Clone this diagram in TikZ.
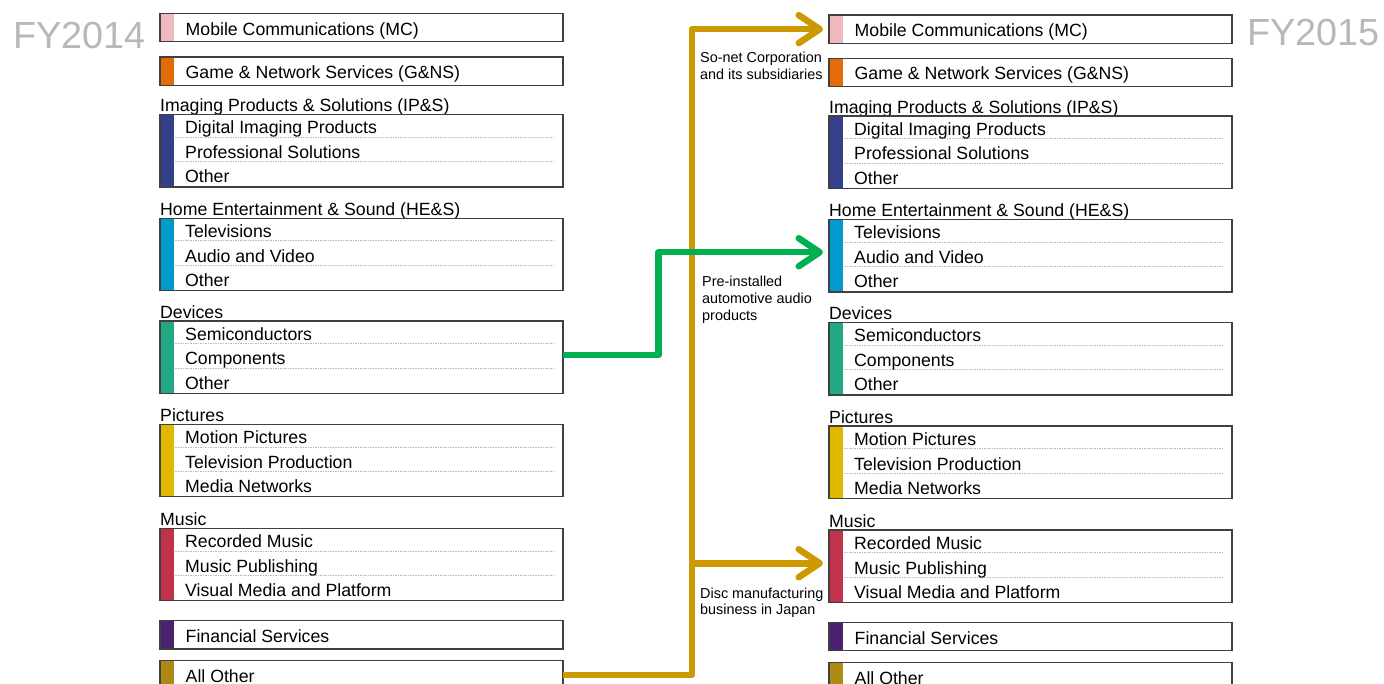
\documentclass[tikz,border=0pt]{standalone}
\usepackage{fontspec}
\setmainfont{Liberation Sans}
\usetikzlibrary{arrows.meta}
\definecolor{cMC}{HTML}{EFB9BD}
\definecolor{cGNS}{HTML}{E36C09}
\definecolor{cIPS}{HTML}{34408A}
\definecolor{cHES}{HTML}{009ACD}
\definecolor{cDEV}{HTML}{23A886}
\definecolor{cPIC}{HTML}{E0B800}
\definecolor{cMUS}{HTML}{C1334A}
\definecolor{cFIN}{HTML}{4A2270}
\definecolor{cALL}{HTML}{AE8A14}
\definecolor{cGreen}{HTML}{00B050}
\definecolor{cGold}{HTML}{CC9A00}
\definecolor{cBorder}{HTML}{404040}
\definecolor{cSep}{HTML}{BBBBBB}
\definecolor{cFY}{HTML}{B8B8B8}
\tikzset{
  box/.style={draw=cBorder, line width=1.2pt, minimum width=403pt, inner sep=0pt, outer sep=0pt, anchor=north west},
  item/.style={anchor=base west, inner sep=0pt, font=\fontsize{17.7}{20}\selectfont},
  note/.style={anchor=north west, inner sep=0pt, align=left, font=\fontsize{14.4}{16.8}\selectfont},
  fy/.style={anchor=base west, inner sep=0pt, text=cFY, font=\fontsize{37.8}{40}\selectfont},
  sepline/.style={cSep, line width=0.6pt, dash pattern=on 1.5pt off 1pt},
  flow/.style={line width=6.5pt, line join=round, -{Straight Barb[length=21pt,width=28pt,round]}, shorten >=6pt},
}
\newcommand\SingleBox[5]{%
  \fill[#4] (#2,#3) rectangle ++(13.5,28.3);
  \node[box, minimum height=28.3pt] (#1) at (#2,#3) {};
  \node[item] (#1-t) at (#2+25.5,#3+21.7) {#5};
}
\newcommand\TripleBox[8]{%
  \node[item] (#1-h) at (#2,#3-2.5) {#5};
  \fill[#4] (#2,#3) rectangle ++(13.5,72.5);
  \node[box, minimum height=72.5pt] (#1) at (#2,#3) {};
  \draw[sepline] (#2+15,#3+22.5) -- (#2+395,#3+22.5);
  \draw[sepline] (#2+15,#3+47) -- (#2+395,#3+47);
  \node[item] (#1-a) at (#2+25,#3+19.5) {#6};
  \node[item] (#1-b) at (#2+25,#3+44) {#7};
  \node[item] (#1-c) at (#2+25,#3+68.5) {#8};
}
\begin{document}
\begin{tikzpicture}[x=1pt,y=-1pt]
\useasboundingbox (0,0) rectangle (1384,684);
\node[fy] (fy14) at (13,48.3) {FY2014};
\node[fy] (fy15) at (1247,45.5) {FY2015};
% left column
\SingleBox{Lmc}{160}{13.5}{cMC}{Mobile Communications (MC)}
\SingleBox{Lgns}{160}{57}{cGNS}{Game \& Network Services (G\&NS)}
\TripleBox{Lips}{160}{114.5}{cIPS}{Imaging Products \& Solutions (IP\&S)}{Digital Imaging Products}{Professional Solutions}{Other}
\TripleBox{Lhes}{160}{218.3}{cHES}{Home Entertainment \& Sound (HE\&S)}{Televisions}{Audio and Video}{Other}
\TripleBox{Ldev}{160}{321}{cDEV}{Devices}{Semiconductors}{Components}{Other}
\TripleBox{Lpic}{160}{424.3}{cPIC}{Pictures}{Motion Pictures}{Television Production}{Media Networks}
\TripleBox{Lmus}{160}{528.3}{cMUS}{Music}{Recorded Music}{Music Publishing}{Visual Media and Platform}
\SingleBox{Lfin}{160}{620.7}{cFIN}{Financial Services}
\SingleBox{Lall}{160}{660.7}{cALL}{All Other}
% right column
\SingleBox{Rmc}{829}{15}{cMC}{Mobile Communications (MC)}
\SingleBox{Rgns}{829}{58.3}{cGNS}{Game \& Network Services (G\&NS)}
\TripleBox{Rips}{829}{116}{cIPS}{Imaging Products \& Solutions (IP\&S)}{Digital Imaging Products}{Professional Solutions}{Other}
\TripleBox{Rhes}{829}{219.5}{cHES}{Home Entertainment \& Sound (HE\&S)}{Televisions}{Audio and Video}{Other}
\TripleBox{Rdev}{829}{322.5}{cDEV}{Devices}{Semiconductors}{Components}{Other}
\TripleBox{Rpic}{829}{426}{cPIC}{Pictures}{Motion Pictures}{Television Production}{Media Networks}
\TripleBox{Rmus}{829}{530}{cMUS}{Music}{Recorded Music}{Music Publishing}{Visual Media and Platform}
\SingleBox{Rfin}{829}{622.5}{cFIN}{Financial Services}
\SingleBox{Rall}{829}{662.5}{cALL}{All Other}
% notes
\node[note] (n1) at (700,52) {So-net Corporation\\and its subsidiaries};
\node[note] (n2) at (702,276) {Pre-installed\\automotive audio\\products};
\node[note] (n3) at (700,587.5) {Disc manufacturing\\business in Japan};
% connectors
\draw[flow, cGold] (Lall.east) -| ([xshift=-137pt]Rmc.west) -- (Rmc.west);
\draw[flow, cGold] ([xshift=-137pt,yshift=3pt]Rmus.west) -- ([yshift=3pt]Rmus.west);
\draw[flow, cGreen] ([yshift=2pt]Ldev.east) -| ([xshift=-170.5pt,yshift=3.5pt]Rhes.west) -- ([yshift=3.5pt]Rhes.west);
\end{tikzpicture}
\end{document}
